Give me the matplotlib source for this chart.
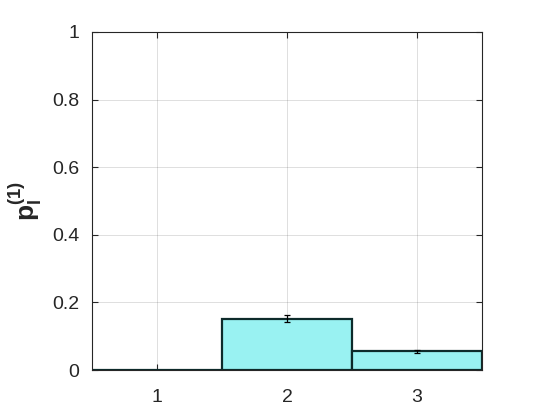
import numpy as np
import matplotlib.pyplot as plt

plt.rcParams['font.family'] = ['Liberation Sans', 'DejaVu Sans']
plt.rcParams['mathtext.fontset'] = 'custom'
plt.rcParams['mathtext.rm'] = 'Liberation Sans'
plt.rcParams['mathtext.bf'] = 'Liberation Sans:bold'

# data
levels = [1, 2, 3]
probs = [0.0, 0.152, 0.055]
errs = [0.0, 0.011, 0.005]

fig = plt.figure(figsize=(5.34, 4.15), dpi=100)
ax = fig.add_axes([92/534, 45/415, 390/534, 338/415])

ax.bar(levels, probs, width=1.0, color='#99f2f2', edgecolor='#0d2b2b',
       linewidth=1.6, zorder=2)
ax.errorbar(levels[1:], probs[1:], yerr=errs[1:], fmt='none', ecolor='black',
            elinewidth=0.9, capsize=2.5, capthick=0.9, zorder=3)

ax.set_xlim(0.5, 3.5)
ax.set_ylim(0, 1)
ax.set_xticks(levels)
ax.set_yticks(np.arange(0, 1.01, 0.2))
ax.set_yticklabels(['0', '0.2', '0.4', '0.6', '0.8', '1'])
ax.grid(True, color='#262626', alpha=0.15, linewidth=0.7, zorder=0)
ax.set_axisbelow(True)
ax.tick_params(direction='in', labelsize=14, colors='#262626', length=4,
               top=True, right=True, pad=9)
ax.tick_params(axis='x', pad=14)
for s in ax.spines.values():
    s.set_color('#262626')
    s.set_linewidth(0.8)
ax.set_ylabel(r'$\mathbf{p_l^{(1)}}$', fontsize=19, color='#262626', labelpad=6)

fig.savefig('out.png', dpi=100)
